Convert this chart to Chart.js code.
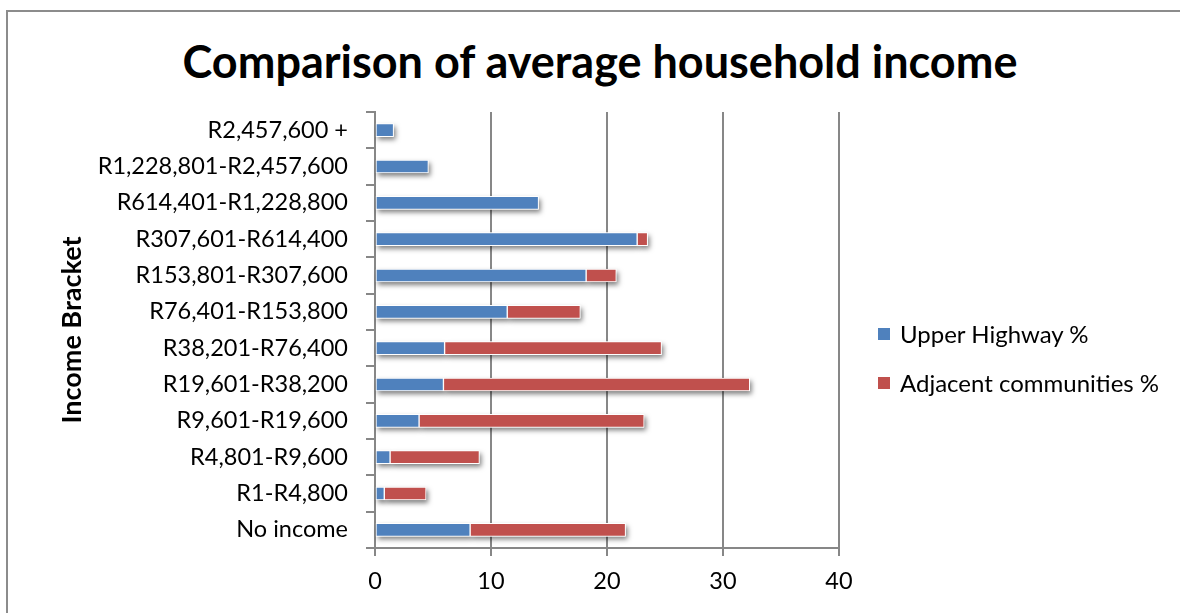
<!DOCTYPE html>
<html>
<head>
<meta charset="utf-8">
<script src="https://cdn.jsdelivr.net/npm/chart.js@4/dist/chart.umd.min.js"></script>
<style>
  html,body{margin:0;padding:0;background:#fff;overflow:hidden;}
  #wrap{position:relative;width:1180px;height:613px;}
  #chart{position:absolute;left:0;top:0;}
  #frame{position:absolute;left:6px;top:10px;width:1300px;height:700px;border:2px solid #8c8c8c;box-sizing:border-box;}
  #title{position:absolute;left:0;top:33px;width:1200px;text-align:center;font-family:Lato,sans-serif;font-weight:bold;font-size:45px;line-height:56px;color:#000;}
  #legend{position:absolute;left:878px;top:309px;font-family:Lato,sans-serif;font-size:24px;color:#000;}
  .item{display:flex;align-items:center;height:49px;}
  .box{width:12px;height:12px;margin-right:10px;}
</style>
</head>
<body>
<div id="wrap">
  <div id="frame"></div>
  <div id="title">Comparison of average household income</div>
  <canvas id="chart" width="1180" height="613"></canvas>
  <div id="legend"></div>
</div>
<script>
// DATA
const brackets=["R2,457,600 +","R1,228,801-R2,457,600","R614,401-R1,228,800","R307,601-R614,400",
  "R153,801-R307,600","R76,401-R153,800","R38,201-R76,400","R19,601-R38,200",
  "R9,601-R19,600","R4,801-R9,600","R1-R4,800","No income"];
const upperHighway=[1.6,4.6,14.1,22.6,18.2,11.4,6.0,5.9,3.8,1.3,0.8,8.2];
const adjacent=[0,0,0,0.9,2.6,6.3,18.7,26.4,19.4,7.7,3.6,13.4];
const seriesNames=["Upper Highway %","Adjacent communities %"];
const xTicks=[0,10,20,30,40];

const FONT="Lato, sans-serif";
const GRID="#878787";

// SHADOW under bars
const shadowPlugin={
  id:"shadow",
  beforeDatasetsDraw(chart){
    const c=chart.ctx;
    c.save();
    c.shadowColor="rgba(0,0,0,0.5)";
    c.shadowBlur=5;
    c.shadowOffsetX=2;
    c.shadowOffsetY=3;
    c.fillStyle="#fff";
    chart.data.datasets.forEach((ds,i)=>{
      chart.getDatasetMeta(i).data.forEach(el=>{
        const p=el.getProps(["x","y","base","height"],true);
        const w=p.x-p.base;
        if(w<1) return;
        c.fillRect(p.base,p.y-p.height/2,w,p.height);
      });
    });
    c.restore();
  }
};

const ctx=document.getElementById("chart").getContext("2d");

const chart=new Chart(ctx,{
  type:"bar",
  data:{
    labels:brackets,
    datasets:[
      {label:seriesNames[0],data:upperHighway,backgroundColor:"#4f81bd"},
      {label:seriesNames[1],data:adjacent,backgroundColor:"#c0504d"}
    ]
  },
  options:{
    indexAxis:"y",
    responsive:false,
    animation:false,
    datasets:{bar:{barThickness:13,borderColor:"#fff",borderWidth:1,borderSkipped:false}},
    layout:{padding:{top:112,right:341,bottom:0,left:0}},
    plugins:{
      legend:{display:false},
      tooltip:{enabled:false},
      title:{display:false}
    },
    scales:{
      x:{
        stacked:true,min:0,max:40,
        afterBuildTicks(s){s.ticks=xTicks.map(v=>({value:v}));},
        afterFit(s){s.height=65;},
        ticks:{color:"#000",font:{family:FONT,size:23.5},padding:11},
        grid:{color:GRID,lineWidth:2,tickLength:8},
        border:{color:GRID,width:2}
      },
      y:{
        stacked:true,
        afterFit(s){s.width=375;},
        ticks:{color:"#000",font:{family:FONT,size:23.5},padding:18,autoSkip:false},
        grid:{offset:true,drawOnChartArea:false,color:GRID,lineWidth:2,tickLength:9},
        border:{color:GRID,width:2},
        title:{display:true,text:"Income Bracket",color:"#000",
          font:{family:FONT,size:27,weight:"bold",lineHeight:1.2},padding:{top:56,bottom:0}}
      }
    }
  },
  plugins:[shadowPlugin]
});

// LEGEND
const lg=document.getElementById("legend");
chart.data.datasets.forEach(d=>{
  lg.innerHTML+=`<div class="item"><span class="box" style="background:${d.backgroundColor}"></span>${d.label}</div>`;
});
</script>
</body>
</html>
